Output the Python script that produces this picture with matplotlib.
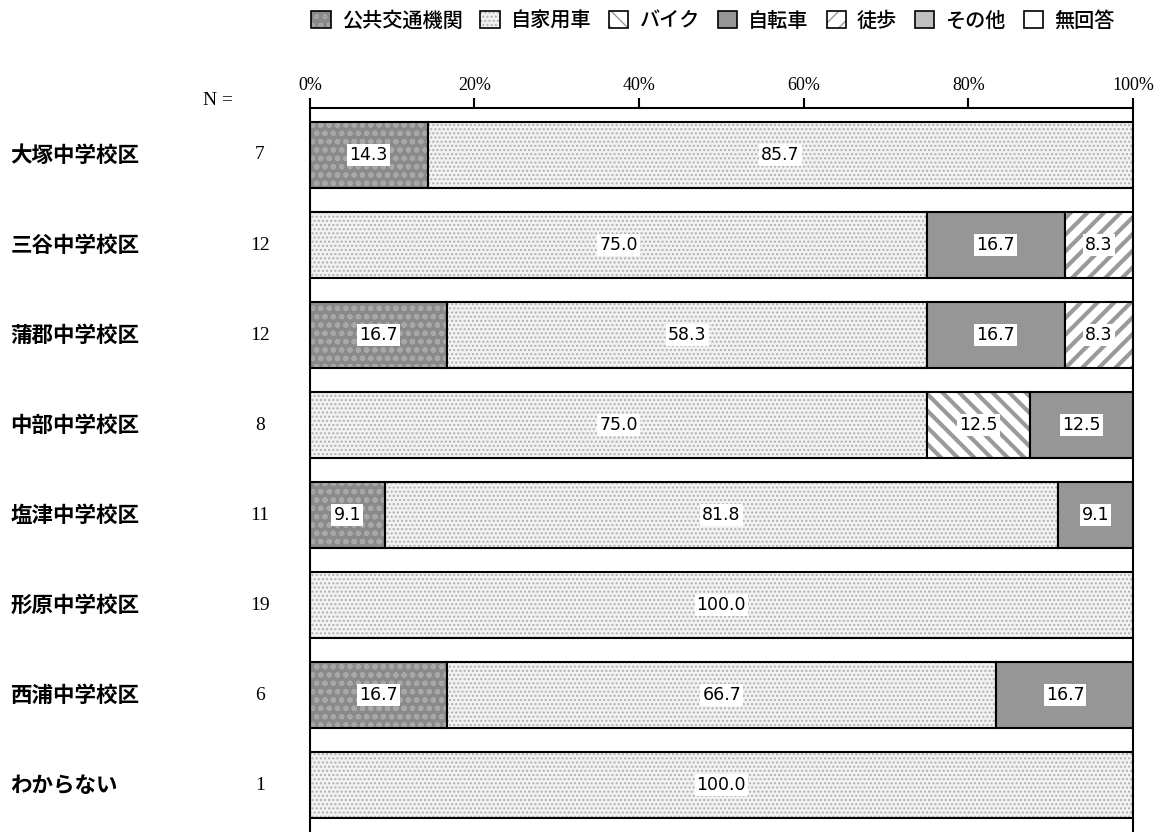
import matplotlib
matplotlib.use('Agg')
import matplotlib.pyplot as plt
from matplotlib.patches import Patch
from matplotlib.transforms import blended_transform_factory

plt.rcParams['font.family'] = ['Noto Sans CJK JP', 'DejaVu Sans']
plt.rcParams['hatch.linewidth'] = 1.0

# data (percent of respondents per district)
districts = ['大塚中学校区', '三谷中学校区', '蒲郡中学校区', '中部中学校区',
             '塩津中学校区', '形原中学校区', '西浦中学校区', 'わからない']
n_values = [7, 12, 12, 8, 11, 19, 6, 1]
modes = ['公共交通機関', '自家用車', 'バイク', '自転車', '徒歩', 'その他', '無回答']
public = [14.3, 0, 16.7, 0, 9.1, 0, 16.7, 0]
car = [85.7, 75.0, 58.3, 75.0, 81.8, 100.0, 66.7, 100.0]
bike = [0, 0, 0, 12.5, 0, 0, 0, 0]
bicycle = [0, 16.7, 16.7, 12.5, 9.1, 0, 16.7, 0]
walk = [0, 8.3, 8.3, 0, 0, 0, 0, 0]
other = [0, 0, 0, 0, 0, 0, 0, 0]
no_answer = [0, 0, 0, 0, 0, 0, 0, 0]
series = [public, car, bike, bicycle, walk, other, no_answer]

# (face colour, hatch, hatch colour, hatch width) for each mode
styles = [('#8a8a8a', 'oo', '#a8a8a8', 1.5),
          ('#f2f2f2', '....', '#b0b0b0', 1.0),
          ('white', '\\\\', '#9a9a9a', 3.0),
          ('#969696', None, '#969696', 1.0),
          ('white', '//', '#9a9a9a', 3.0),
          ('#c0c0c0', None, '#c0c0c0', 1.0),
          ('white', None, 'white', 1.0)]


def set_hw(patch, w):
    if hasattr(patch, 'set_hatch_linewidth'):
        patch.set_hatch_linewidth(w)


fig = plt.figure(figsize=(11.65, 8.32), dpi=100)
ax = fig.add_axes([0.266, 0.0, 0.7064, 0.870])

rows = list(range(len(districts)))
left = [0.0] * len(districts)
for vals, (fc, hatch, hc, hw) in zip(series, styles):
    idx = [i for i, v in enumerate(vals) if v > 0]
    if idx:
        ys = [rows[i] for i in idx]
        ws = [vals[i] for i in idx]
        ls = [left[i] for i in idx]
        bars = ax.barh(ys, ws, left=ls, height=0.74, color=fc, hatch=hatch,
                       edgecolor=hc, linewidth=0)
        for b in bars:
            set_hw(b, hw)
        ax.barh(ys, ws, left=ls, height=0.74, fill=False,
                edgecolor='black', linewidth=1.5)
        for y, w, l in zip(ys, ws, ls):
            ax.text(l + w / 2, y, f'{w:.1f}', ha='center', va='center',
                    fontsize=12.5, family='DejaVu Sans',
                    bbox=dict(facecolor='white', edgecolor='none', pad=1.5))
    left = [a + b for a, b in zip(left, vals)]

ax.set_xlim(0, 100)
ax.set_ylim(len(districts) - 0.48, -0.52)
ax.xaxis.tick_top()
ax.set_xticks([0, 20, 40, 60, 80, 100])
ax.set_xticklabels(['0%', '20%', '40%', '60%', '80%', '100%'],
                   family='Liberation Serif', fontsize=13)
ax.tick_params(axis='x', direction='out', length=7, width=1.5, pad=3)
ax.set_yticks([])
ax.spines['bottom'].set_visible(False)
for s in ['left', 'top', 'right']:
    ax.spines[s].set_linewidth(1.5)

trans = blended_transform_factory(fig.transFigure, ax.transData)
for i, (name, n) in enumerate(zip(districts, n_values)):
    fig.text(0.009, i, name, transform=trans, ha='left', va='center',
             fontsize=15.5, weight='bold')
    fig.text(0.223, i, str(n), transform=trans, ha='center', va='center',
             fontsize=14, family='Liberation Serif')
fig.text(0.187, 0.879, 'N =', ha='center', va='center',
         fontsize=14, family='Liberation Serif')

handles = []
for fc, hatch, hc, hw in styles:
    p = Patch(facecolor=fc, hatch=hatch, edgecolor=hc, linewidth=0)
    set_hw(p, min(hw, 1.5))
    handles.append((p, Patch(fill=False, edgecolor='black', linewidth=1.2)))
fig.legend(handles, modes, loc='center', bbox_to_anchor=(0.612, 0.975),
           ncol=7, frameon=False, handlelength=0.95,
           handleheight=0.95, columnspacing=0.9, handletextpad=0.55,
           borderaxespad=0, prop={'weight': 'medium', 'size': 14.5})

fig.savefig('out.png', dpi=100)
